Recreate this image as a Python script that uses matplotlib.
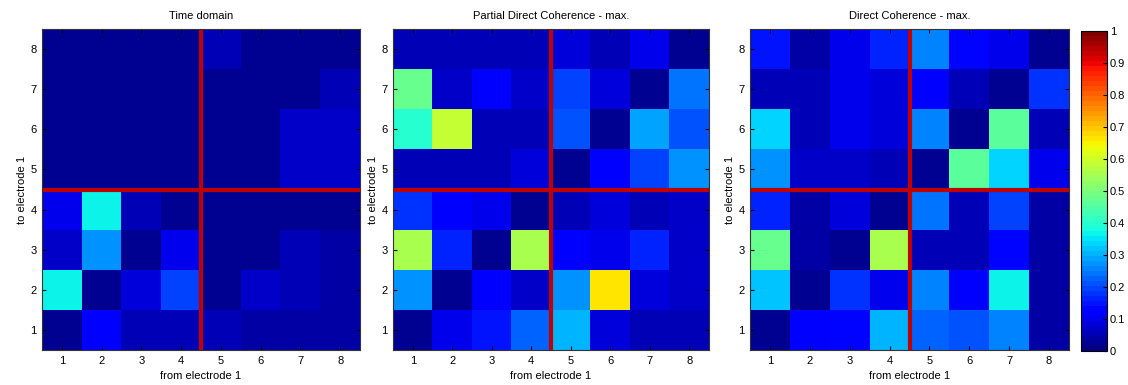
import matplotlib
matplotlib.use("Agg")
import matplotlib.pyplot as plt
import numpy as np

plt.rcParams["font.family"] = ["Liberation Sans", "DejaVu Sans"]

electrodes = [1, 2, 3, 4, 5, 6, 7, 8]
titles = ["Time domain", "Partial Direct Coherence - max.", "Direct Coherence - max."]
cbar_ticks = [0, 0.1, 0.2, 0.3, 0.4, 0.5, 0.6, 0.7, 0.8, 0.9, 1]

# rows listed from "to electrode" 8 (top) down to 1 (bottom); columns = from electrode 1..8
time_domain = [
    [0.02, 0.02, 0.02, 0.02, 0.06, 0.03, 0.03, 0.03],
    [0.02, 0.02, 0.02, 0.02, 0.03, 0.03, 0.03, 0.05],
    [0.02, 0.02, 0.02, 0.02, 0.03, 0.03, 0.07, 0.07],
    [0.02, 0.02, 0.02, 0.02, 0.03, 0.03, 0.07, 0.07],
    [0.10, 0.36, 0.06, 0.03, 0.03, 0.03, 0.03, 0.03],
    [0.07, 0.28, 0.03, 0.10, 0.03, 0.03, 0.05, 0.04],
    [0.36, 0.02, 0.08, 0.20, 0.03, 0.07, 0.05, 0.04],
    [0.03, 0.12, 0.05, 0.05, 0.05, 0.04, 0.04, 0.04],
]
pdc_max = [
    [0.05, 0.05, 0.05, 0.05, 0.08, 0.05, 0.10, 0.03],
    [0.47, 0.07, 0.11, 0.07, 0.20, 0.08, 0.02, 0.24],
    [0.40, 0.58, 0.05, 0.05, 0.21, 0.02, 0.29, 0.21],
    [0.06, 0.06, 0.06, 0.08, 0.02, 0.12, 0.20, 0.28],
    [0.18, 0.12, 0.10, 0.02, 0.06, 0.08, 0.05, 0.07],
    [0.55, 0.17, 0.02, 0.55, 0.12, 0.10, 0.16, 0.07],
    [0.28, 0.02, 0.12, 0.07, 0.28, 0.66, 0.08, 0.07],
    [0.03, 0.10, 0.15, 0.22, 0.30, 0.08, 0.05, 0.06],
]
dc_max = [
    [0.15, 0.04, 0.10, 0.16, 0.25, 0.13, 0.10, 0.03],
    [0.05, 0.05, 0.10, 0.09, 0.11, 0.06, 0.02, 0.18],
    [0.33, 0.06, 0.10, 0.08, 0.26, 0.02, 0.46, 0.05],
    [0.27, 0.07, 0.07, 0.06, 0.02, 0.46, 0.33, 0.10],
    [0.16, 0.04, 0.09, 0.02, 0.24, 0.06, 0.20, 0.04],
    [0.47, 0.04, 0.03, 0.56, 0.06, 0.06, 0.14, 0.04],
    [0.32, 0.03, 0.18, 0.10, 0.25, 0.12, 0.37, 0.04],
    [0.03, 0.11, 0.14, 0.30, 0.22, 0.21, 0.25, 0.04],
]

W, H = 1128, 385
fig = plt.figure(figsize=(W / 100, H / 100), dpi=100)
cmap = plt.get_cmap("jet", 64)

# axes boxes in pixels: left, right, top, bottom
boxes = [(42, 360, 29, 350), (393, 709, 29, 350), (750, 1069, 29, 350)]
panels = [time_domain, pdc_max, dc_max]

for (l, r, t, b), data, title in zip(boxes, panels, titles):
    ax = fig.add_axes([l / W, 1 - b / H, (r - l) / W, (b - t) / H])
    arr = np.array(data)[::-1]  # bottom row = electrode 1
    im = ax.imshow(arr, cmap=cmap, vmin=0, vmax=1, origin="lower",
                   extent=(0.5, 8.5, 0.5, 8.5), aspect="auto", interpolation="nearest")
    ax.axvline(4.5, color="#c00000", lw=3)
    ax.axhline(4.5, color="#c00000", lw=3)
    ax.set_xticks(electrodes)
    ax.set_yticks(electrodes)
    ax.tick_params(direction="in", top=True, right=True, labelsize=8, length=3, pad=4)
    ax.set_xlabel("from electrode 1", fontsize=8, labelpad=4)
    ax.set_ylabel("to electrode 1", fontsize=8, labelpad=2)
    ax.set_title(title, fontsize=8, pad=7)
    for s in ax.spines.values():
        s.set_color("#333333")

cax = fig.add_axes([1081 / W, 1 - 351 / H, 26 / W, 320 / H])
cb = fig.colorbar(im, cax=cax, ticks=cbar_ticks)
cb.ax.set_yticklabels([f"{v:g}" for v in cbar_ticks])
cb.ax.tick_params(direction="in", labelsize=8, length=3, pad=2)

fig.savefig("out.png", dpi=100)
